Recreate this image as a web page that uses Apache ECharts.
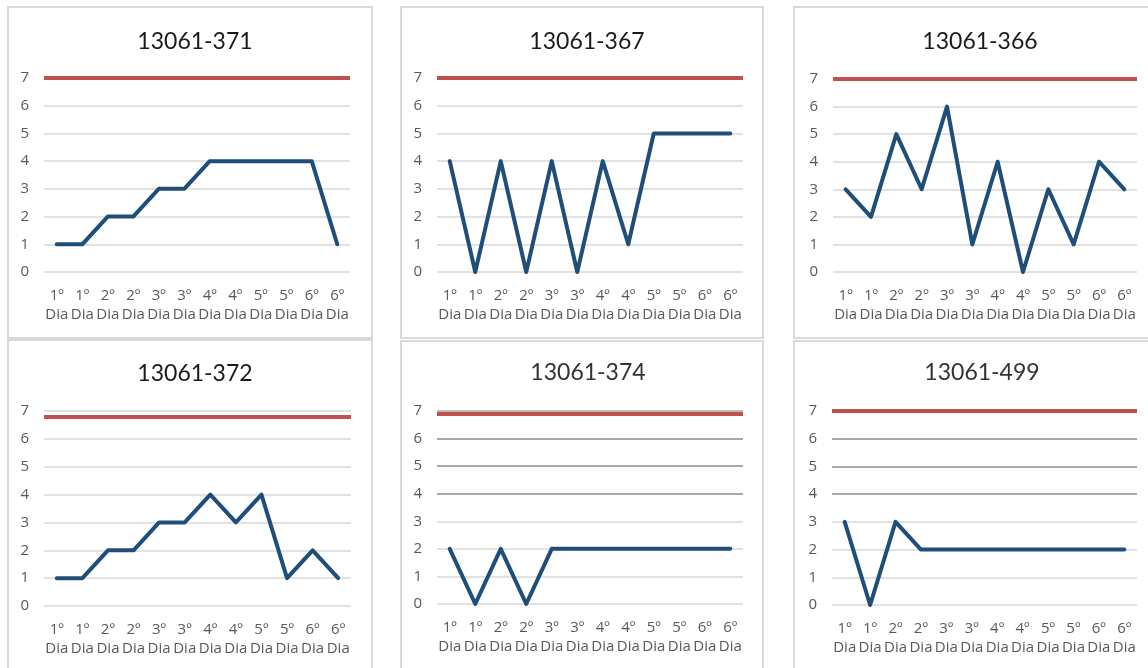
<!DOCTYPE html>
<html>
<head>
<meta charset="utf-8">
<script src="https://cdn.jsdelivr.net/npm/echarts@6/dist/echarts.min.js"></script>
<style>
html,body{margin:0;padding:0;background:#fff;}
#chart{width:1148px;height:668px;}
</style>
</head>
<body>
<div id="chart"></div>
<script>
// ---- data ----
var categories = ['1º Dia','1º Dia','2º Dia','2º Dia','3º Dia','3º Dia','4º Dia','4º Dia','5º Dia','5º Dia','6º Dia','6º Dia'];
var titles = ['13061-371','13061-367','13061-366','13061-372','13061-374','13061-499'];
var s371 = [1,1,2,2,3,3,4,4,4,4,4,1];
var s367 = [4,0,4,0,4,0,4,1,5,5,5,5];
var s366 = [3,2,5,3,6,1,4,0,3,1,4,3];
var s372 = [1,1,2,2,3,3,4,3,4,1,2,1];
var s374 = [2,0,2,0,2,2,2,2,2,2,2,2];
var s499 = [3,0,3,2,2,2,2,2,2,2,2,2];
var limits = [7,7,7,6.8,6.9,7];
var yTicks = [0,1,2,3,4,5,6,7];

var seriesData = [s371,s367,s366,s372,s374,s499];

// ---- layout (styles) ----
var grids = [
  {left:44, top:78, width:306, height:194},
  {left:437, top:78, width:306, height:194},
  {left:833, top:79, width:304, height:193},
  {left:44, top:411, width:307, height:195},
  {left:437, top:411, width:306, height:193},
  {left:832, top:411, width:305, height:194}
];
var panels = [
  {x:8, y:7, w:364, h:331},
  {x:401, y:7, w:362, h:331},
  {x:794, y:7, w:362, h:331},
  {x:8, y:340, w:364, h:340},
  {x:401, y:341, w:362, h:340},
  {x:794, y:341, w:362, h:340}
];
var titlePos = [
  {x:190, y:41},{x:582, y:41},{x:975, y:41},
  {x:190, y:373},{x:583, y:372},{x:977, y:372}
];
var L = '#d9d9d9', D = '#8c8c8c';
var splitColors = [
  [L],[L],[L],[L],
  [L,L,L,L,D,D,D,'#a6a6a6'],
  [L,L,L,L,D,D,D,L]
];

var titleFont = 'Lato, "Open Sans", sans-serif';
var font = '"Open Sans", "Noto Sans", sans-serif';
var option = {
  backgroundColor:'#ffffff',
  animation:false,
  graphic: panels.map(function(p){
    return {type:'rect', shape:{x:p.x,y:p.y,width:p.w,height:p.h}, style:{fill:'#fff', stroke:'#d9d9d9', lineWidth:2}, z:-10, silent:true};
  }),
  title: titles.map(function(t,i){
    return {text:t, left:titlePos[i].x, top:titlePos[i].y-16, textAlign:'center',
      textStyle:{fontFamily:titleFont, fontSize:23, fontWeight:'normal', color:(i>=4?'#333333':'#1a1a1a')}};
  }),
  grid: grids,
  xAxis: grids.map(function(g,i){
    return {type:'category', gridIndex:i, data:categories, boundaryGap:true,
      axisLine:{show:false}, axisTick:{show:false},
      axisLabel:{interval:0, margin:14, fontFamily:font, fontSize:15, color:'#595959', lineHeight:19,
        formatter:function(v){return v.replace(' ','\n');}}};
  }),
  yAxis: grids.map(function(g,i){
    return {type:'value', gridIndex:i, min:yTicks[0], max:yTicks[yTicks.length-1], interval:1,
      axisLine:{show:false}, axisTick:{show:false},
      axisLabel:{margin:15, fontFamily:font, fontSize:15, color:'#595959'},
      splitLine:{lineStyle:{color:splitColors[i], width:1.5}}};
  }),
  series: seriesData.map(function(d,i){
    return {type:'line', xAxisIndex:i, yAxisIndex:i, data:d, symbol:'none',
      lineStyle:{color:'#1F4E79', width:4, cap:'round', join:'round'},
      markLine:{silent:true, symbol:['none','none'], label:{show:false},
        lineStyle:{color:'#C0504D', width:4, type:'solid'},
        data:[{yAxis:limits[i]}]},
      z:3};
  })
};
var chart = echarts.init(document.getElementById('chart'), null, {renderer:'canvas'});
chart.setOption(option);
</script>
</body>
</html>
